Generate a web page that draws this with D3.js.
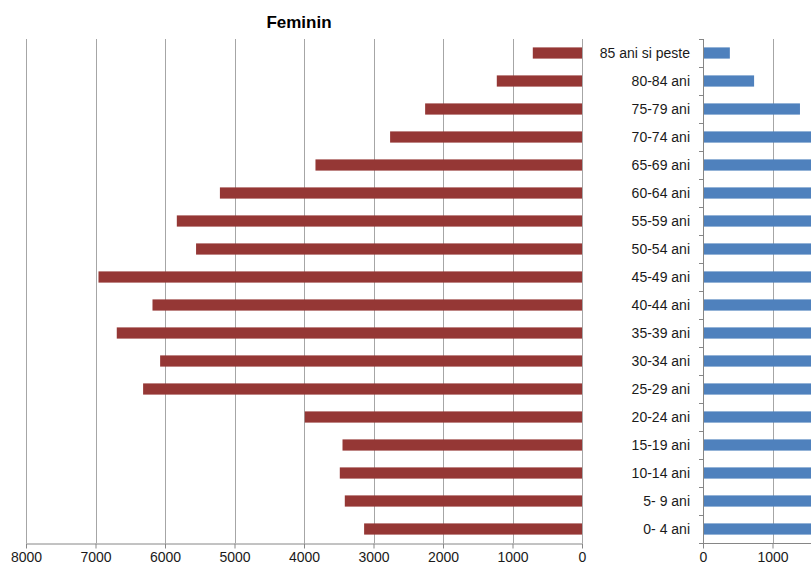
<!DOCTYPE html>
<html>
<head>
<meta charset="utf-8">
<script src="https://cdn.jsdelivr.net/npm/d3@7"></script>
<style>
  body { margin: 0; background: #fff; overflow: hidden; }
  svg { display: block; font-family: "Liberation Sans", Arial, sans-serif; }
  .grid line { stroke: #a6a6a6; stroke-width: 1; }
  .axis path, .axis line { stroke: #868686; }
  .axis text { fill: #1a1a1a; font-size: 14px; }
</style>
</head>
<body>
<svg id="chart" width="811" height="565"></svg>
<script>
// age groups, bottom to top
const ageGroups = ['0- 4 ani', '5- 9 ani', '10-14 ani', '15-19 ani', '20-24 ani', '25-29 ani',
  '30-34 ani', '35-39 ani', '40-44 ani', '45-49 ani', '50-54 ani', '55-59 ani', '60-64 ani',
  '65-69 ani', '70-74 ani', '75-79 ani', '80-84 ani', '85 ani si peste'];
const feminin = [3135, 3413, 3485, 3446, 3989, 6315, 6070, 6694, 6180, 6957, 5553, 5830, 5210,
  3835, 2761, 2257, 1226, 708];
// right panel is cut at the picture edge; only the top three bars are readable
const masculin = [3300, 3600, 3700, 3600, 4200, 6500, 6300, 6900, 6300, 6800, 5400, 5500, 4600,
  3100, 2000, 1388, 728, 379];
const xTicks = [0, 1000, 2000, 3000, 4000, 5000, 6000, 7000, 8000];
const xTicksRight = [0, 1000]; // the rest lie past the picture edge

const svg = d3.select('#chart');
const W = 811;
const plotTop = 39, plotBottom = 543;

const y = d3.scaleBand()
  .domain(ageGroups.slice().reverse())
  .range([plotTop, plotBottom])
  .paddingInner(0.6)
  .paddingOuter(0.3);

const xLeft = d3.scaleLinear().domain([0, 8000]).range([582, 26]);
const xRight = d3.scaleLinear().domain([0, 8000]).range([703, 703 + 556]);

// gridlines
svg.append('g').attr('class', 'grid')
  .selectAll('line').data(xTicks).join('line')
  .attr('x1', d => Math.round(xLeft(d)) + 0.5).attr('x2', d => Math.round(xLeft(d)) + 0.5)
  .attr('y1', plotTop).attr('y2', plotBottom);
svg.append('g').attr('class', 'grid')
  .selectAll('line').data(xTicksRight.slice(1)).join('line')
  .attr('x1', d => Math.round(xRight(d)) + 0.5).attr('x2', d => Math.round(xRight(d)) + 0.5)
  .attr('y1', plotTop).attr('y2', plotBottom);

// bars
svg.append('g').selectAll('rect').data(ageGroups).join('rect')
  .attr('x', (d, i) => xLeft(feminin[i]))
  .attr('y', d => y(d))
  .attr('width', (d, i) => xLeft(0) - xLeft(feminin[i]))
  .attr('height', y.bandwidth())
  .attr('fill', '#953735');

svg.append('g').selectAll('rect').data(ageGroups).join('rect')
  .attr('x', xRight(0) + 0.5)
  .attr('y', d => y(d))
  .attr('width', (d, i) => Math.min(xRight(masculin[i]), W) - xRight(0))
  .attr('height', y.bandwidth())
  .attr('fill', '#4f81bd');

// bottom axes
const axL = svg.append('g').attr('class', 'axis')
  .attr('transform', `translate(0,${plotBottom + 0.5})`)
  .call(d3.axisBottom(xLeft).tickValues(xTicks).tickFormat(d3.format('d')).tickSize(5).tickSizeOuter(0));
axL.selectAll('text').attr('dy', '10px');

const axR = svg.append('g').attr('class', 'axis')
  .attr('transform', `translate(0,${plotBottom + 0.5})`)
  .call(d3.axisBottom(xRight).tickValues(xTicksRight).tickFormat(d3.format('d')).tickSize(5).tickSizeOuter(0));
axR.select('.domain').attr('d', `M${xRight(0)},0H${W}`);
axR.selectAll('text').attr('dy', '10px');

// right vertical axis with ticks at band boundaries
const yBounds = d3.range(ageGroups.length + 1).map(i => plotTop + i * (plotBottom - plotTop) / ageGroups.length);
const vAx = svg.append('g').attr('class', 'axis');
vAx.append('line')
  .attr('x1', 703.5).attr('x2', 703.5).attr('y1', plotTop).attr('y2', plotBottom + 5);
vAx.selectAll('line.tk').data(yBounds).join('line').attr('class', 'tk')
  .attr('x1', 699).attr('x2', 703.5)
  .attr('y1', d => Math.round(d) + 0.5).attr('y2', d => Math.round(d) + 0.5);

// category labels
svg.append('g').selectAll('text').data(ageGroups).join('text')
  .attr('x', 690)
  .attr('y', d => y(d) + y.bandwidth() / 2)
  .attr('dy', '0.35em')
  .attr('text-anchor', 'end')
  .attr('font-size', 14)
  .attr('fill', '#1a1a1a')
  .text(d => d);

// title
svg.append('text')
  .attr('x', 299).attr('y', 28)
  .attr('text-anchor', 'middle')
  .attr('font-size', 17).attr('font-weight', 'bold')
  .attr('fill', '#000')
  .text('Feminin');
</script>
</body>
</html>
